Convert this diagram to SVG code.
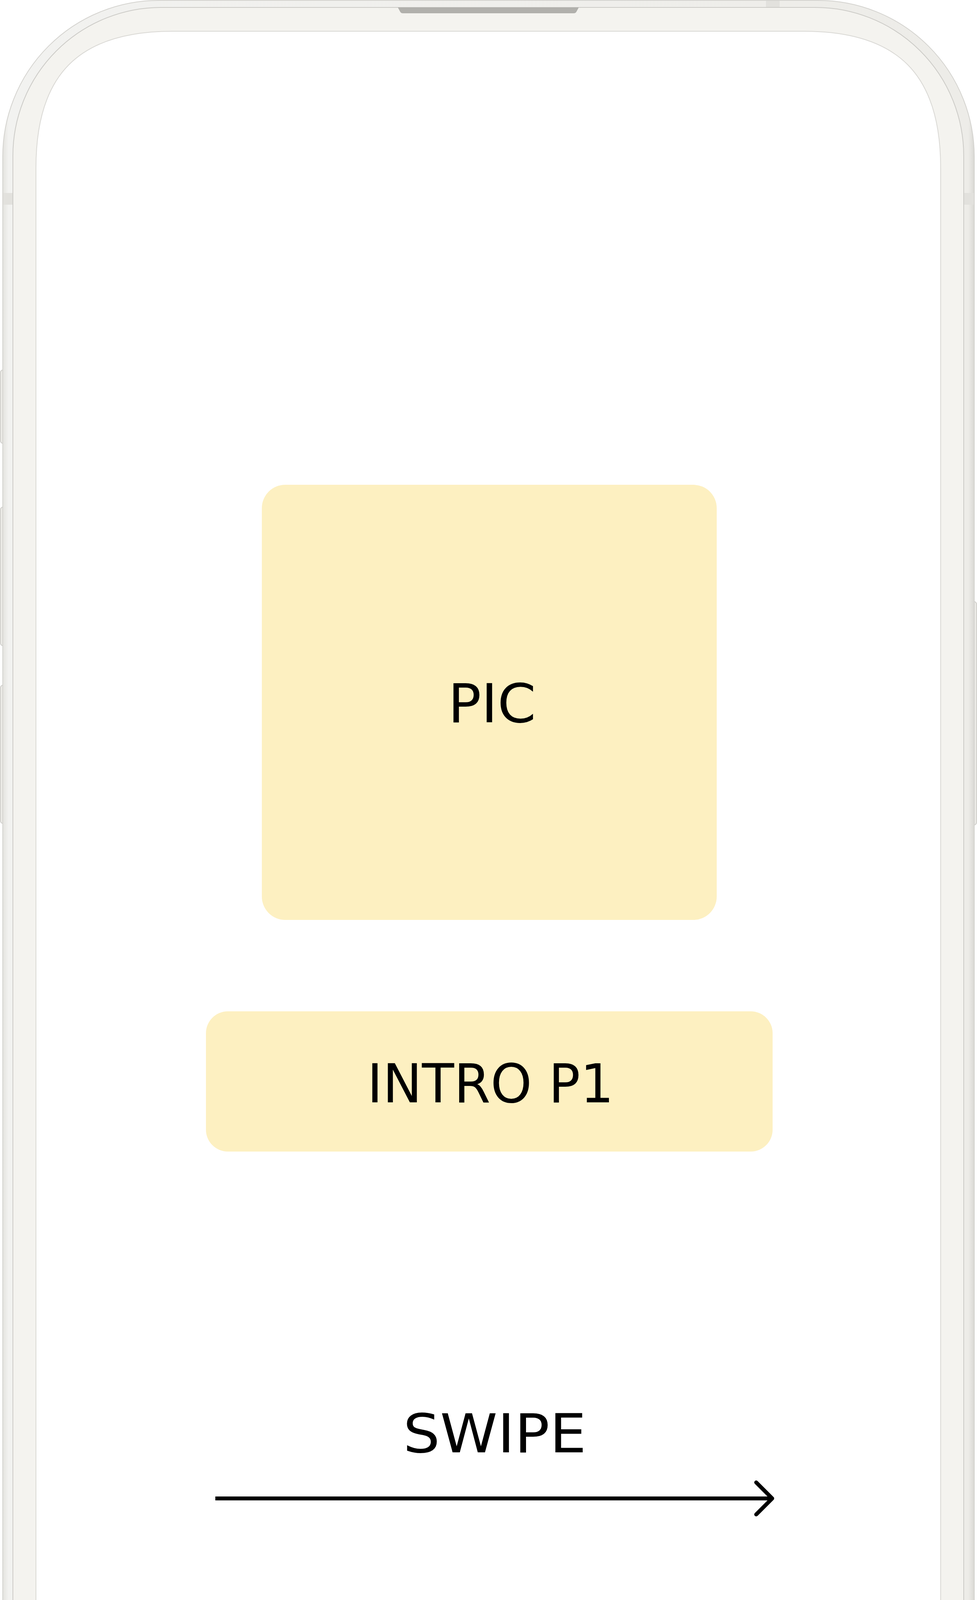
<svg xmlns="http://www.w3.org/2000/svg" width="2500" height="5179" viewBox="0 0 2500 5179">
  <style>
    .btn { fill: #ECEBE7; stroke: #CFCECA; stroke-width: 2; }
    .band { fill: #E2E1DD; }
    .box { fill: #FDF0C1; }
    .label { font-family: "DejaVu Sans", "Liberation Sans", sans-serif; font-size: 137px; fill: #000000; text-anchor: middle; }
    .conn { stroke: #000000; stroke-width: 10; fill: none; }
  </style>
  <defs>
    <linearGradient id="rimH" x1="0" y1="0" x2="1" y2="0">
      <stop offset="0" stop-color="#E4E3DF"/>
      <stop offset="0.006" stop-color="#F2F2F0"/>
      <stop offset="0.994" stop-color="#EDECE8"/>
      <stop offset="1" stop-color="#D9D8D4"/>
    </linearGradient>
    <marker id="chev" viewBox="0 0 60 100" refX="50" refY="50" markerWidth="60" markerHeight="100" markerUnits="userSpaceOnUse" orient="auto" overflow="visible">
      <path d="M9,9 L50,50 L9,91" fill="none" stroke="#000000" stroke-width="10" stroke-linecap="round" stroke-linejoin="round"/>
    </marker>
  </defs>

  <rect x="0" y="0" width="2500" height="5179" fill="#FFFFFF"/>

  <g id="phone">
    <!-- side buttons -->
    <rect class="btn" x="1" y="947" width="20" height="188" rx="7"/>
    <rect class="btn" x="1" y="1298" width="20" height="355" rx="7"/>
    <rect class="btn" x="1" y="1754" width="20" height="354" rx="7"/>
    <rect class="btn" x="2479" y="1540" width="20" height="572" rx="7"/>
    <!-- body rim -->
    <rect x="7" y="1" width="2486" height="5176" rx="400" fill="url(#rimH)" stroke="#D4D3CF" stroke-width="2"/>
    <!-- antenna bands -->
    <rect class="band" x="8" y="494" width="25" height="30"/>
    <rect class="band" x="2467" y="494" width="25" height="30"/>
    <rect class="band" x="8" y="4654" width="25" height="30"/>
    <rect class="band" x="2467" y="4654" width="25" height="30"/>
    <rect class="band" x="1960" y="2" width="35" height="16"/>
    <rect class="band" x="480" y="5158" width="35" height="18"/>
    <!-- bezel -->
    <rect x="33" y="19" width="2433" height="5137" rx="380" fill="#F4F3EF" stroke="#CCCBC7" stroke-width="2"/>
    <!-- speaker notch -->
    <path d="M1018,19 L1481,19 L1475,30 Q1473,34 1468,34 L1031,34 Q1026,34 1024,30 Z" fill="#B1B0AC"/>
    <!-- screen -->
    <path d="M442,80 L2057,80 C2297,80 2407,190 2407,430 L2407,4749 C2407,4989 2297,5099 2057,5099 L442,5099 C202,5099 92,4989 92,4749 L92,430 C92,190 202,80 442,80 Z" fill="#FFFFFF" stroke="#D9D8D4" stroke-width="2"/>
  </g>

  <g id="node-pic">
    <rect class="box" x="670" y="1241" width="1164" height="1114" rx="60"/>
    <text class="label" x="1259" y="1849" textLength="225" lengthAdjust="spacingAndGlyphs">PIC</text>
  </g>

  <g id="node-intro">
    <rect class="box" x="527" y="2589" width="1450" height="359" rx="56"/>
    <text class="label" x="1255" y="2822" textLength="631" lengthAdjust="spacingAndGlyphs">INTRO P1</text>
  </g>

  <g id="node-swipe">
    <text class="label" x="1266" y="3718" textLength="469" lengthAdjust="spacingAndGlyphs">SWIPE</text>
  </g>

  <g id="connectors">
    <line class="conn" x1="551" y1="3836" x2="1976" y2="3836" marker-end="url(#chev)"/>
  </g>
</svg>
